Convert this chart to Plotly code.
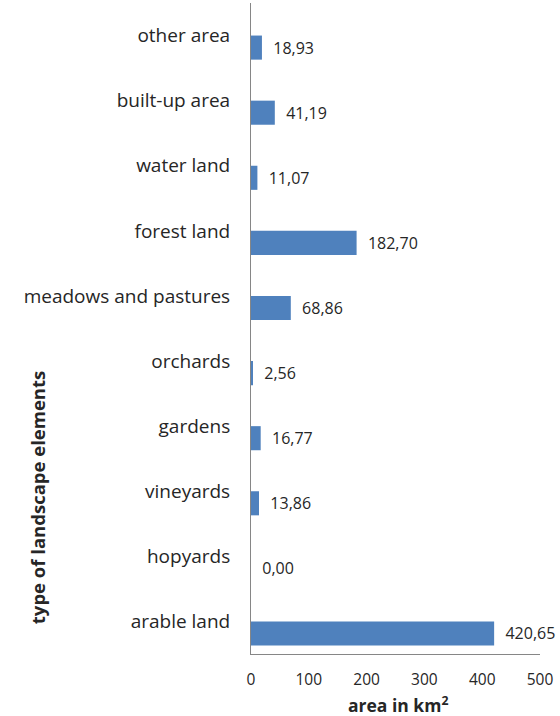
import plotly.graph_objects as go

categories = ["arable land", "hopyards", "vineyards", "gardens", "orchards",
              "meadows and pastures", "forest land", "water land", "built-up area", "other area"]
values = [420.65, 0.00, 13.86, 16.77, 2.56, 68.86, 182.70, 11.07, 41.19, 18.93]
value_labels = [f"{v:.2f}".replace(".", ",") for v in values]
x_ticks = [0, 100, 200, 300, 400, 500]

FONT = "Open Sans"
TXT = "#262626"

fig = go.Figure()
fig.add_trace(go.Bar(
    y=categories, x=values, orientation="h",
    marker=dict(color="#4F81BD", line=dict(width=0)),
    width=0.37, offset=-0.37,
    text=["\u00a0\u00a0" + t for t in value_labels],
    textposition="outside", cliponaxis=False,
    textfont=dict(family=FONT, size=16, color=TXT),
))

fig.update_layout(
    width=560, height=716,
    margin=dict(l=251, r=20, t=3, b=62),
    plot_bgcolor="white", paper_bgcolor="white",
    showlegend=False,
    font=dict(family=FONT, color=TXT),
    xaxis=dict(range=[0, 500], tickvals=x_ticks, ticktext=[str(t) for t in x_ticks],
               showgrid=False, zeroline=False, showline=True, linecolor="#868686",
               linewidth=1, ticks="outside", ticklen=11, tickcolor="rgba(0,0,0,0)",
               tickfont=dict(family=FONT, size=15.5, color=TXT)),
    yaxis=dict(type="category", categoryorder="array", categoryarray=categories,
               showgrid=False, zeroline=False, showline=True, linecolor="#868686",
               linewidth=1, ticks="outside", ticklen=16, tickcolor="rgba(0,0,0,0)",
               tickfont=dict(family=FONT, size=19, color=TXT),
               range=[-0.5, 9.5]),
    annotations=[
        dict(text="<b>area in km<sup>2</sup></b>", xref="paper", yref="paper",
             x=0.509, y=-0.077, showarrow=False, yanchor="middle",
             font=dict(family=FONT, size=17.5, color=TXT)),
        dict(text="<b>type of landscape elements</b>", xref="paper", yref="paper",
             x=-0.74, y=0.2396, showarrow=False, textangle=-90,
             xanchor="center", yanchor="middle",
             font=dict(family=FONT, size=18.5, color=TXT)),
    ],
)

fig.write_html("out.html")
